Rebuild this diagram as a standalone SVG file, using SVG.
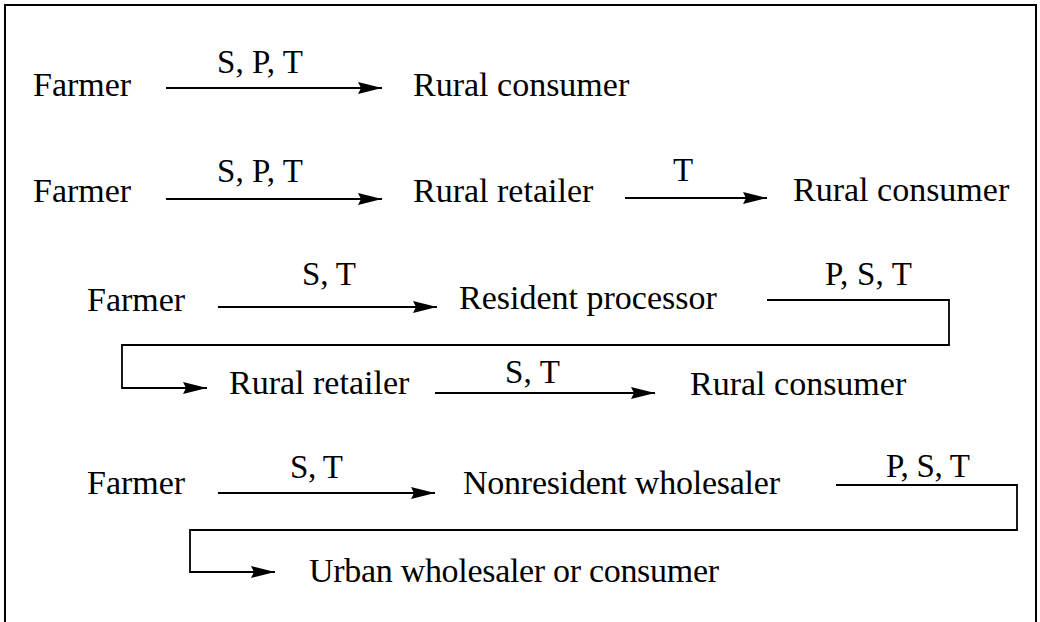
<svg xmlns="http://www.w3.org/2000/svg" width="1040" height="622" viewBox="0 0 1040 622">
<defs>
<marker id="ah" markerWidth="25" markerHeight="14" refX="24" refY="7" orient="auto" markerUnits="userSpaceOnUse">
<path d="M0,1 L24,7 L0,13 L3,7 Z" fill="#000"/>
</marker>
<style>
text{font-family:"Liberation Serif","Times New Roman",serif;font-size:34px;fill:#000}
.l{font-size:33px}
.c{fill:none;stroke:#000;stroke-width:1.8}
</style>
</defs>
<rect width="1040" height="622" fill="#fff"/>
<rect x="5" y="5" width="1031" height="630" fill="none" stroke="#000" stroke-width="2"/>
<g id="connectors">
<path class="c" d="M166,88 H382" marker-end="url(#ah)"/>
<path class="c" d="M166,199 H382" marker-end="url(#ah)"/>
<path class="c" d="M625,198 H767" marker-end="url(#ah)"/>
<path class="c" d="M218,307 H437" marker-end="url(#ah)"/>
<path class="c" d="M767,300 H949 V345 H122 V388 H207" marker-end="url(#ah)"/>
<path class="c" d="M435,393 H655" marker-end="url(#ah)"/>
<path class="c" d="M218,493 H435" marker-end="url(#ah)"/>
<path class="c" d="M836,485 H1017 V530 H190 V572 H275" marker-end="url(#ah)"/>
</g>
<g id="labels">
<text class="l" x="217" y="73" textLength="86">S, P, T</text>
<text class="l" x="217" y="182" textLength="86">S, P, T</text>
<text class="l" x="673" y="181">T</text>
<text class="l" x="302" y="285" textLength="54">S, T</text>
<text class="l" x="825" y="285" textLength="87">P, S, T</text>
<text class="l" x="505" y="383" textLength="55">S, T</text>
<text class="l" x="290" y="478" textLength="53">S, T</text>
<text class="l" x="886" y="477" textLength="84">P, S, T</text>
</g>
<g id="n1"><text x="33" y="96">Farmer</text></g>
<g id="n2"><text x="413" y="96">Rural consumer</text></g>
<g id="n3"><text x="33" y="202">Farmer</text></g>
<g id="n4"><text x="413" y="202">Rural retailer</text></g>
<g id="n5"><text x="793" y="201">Rural consumer</text></g>
<g id="n6"><text x="87" y="311">Farmer</text></g>
<g id="n7"><text x="459" y="309">Resident processor</text></g>
<g id="n8"><text x="229" y="394">Rural retailer</text></g>
<g id="n9"><text x="690" y="395">Rural consumer</text></g>
<g id="n10"><text x="87" y="494">Farmer</text></g>
<g id="n11"><text x="463" y="494" textLength="317">Nonresident wholesaler</text></g>
<g id="n12"><text x="309" y="582" textLength="410">Urban wholesaler or consumer</text></g>
</svg>
